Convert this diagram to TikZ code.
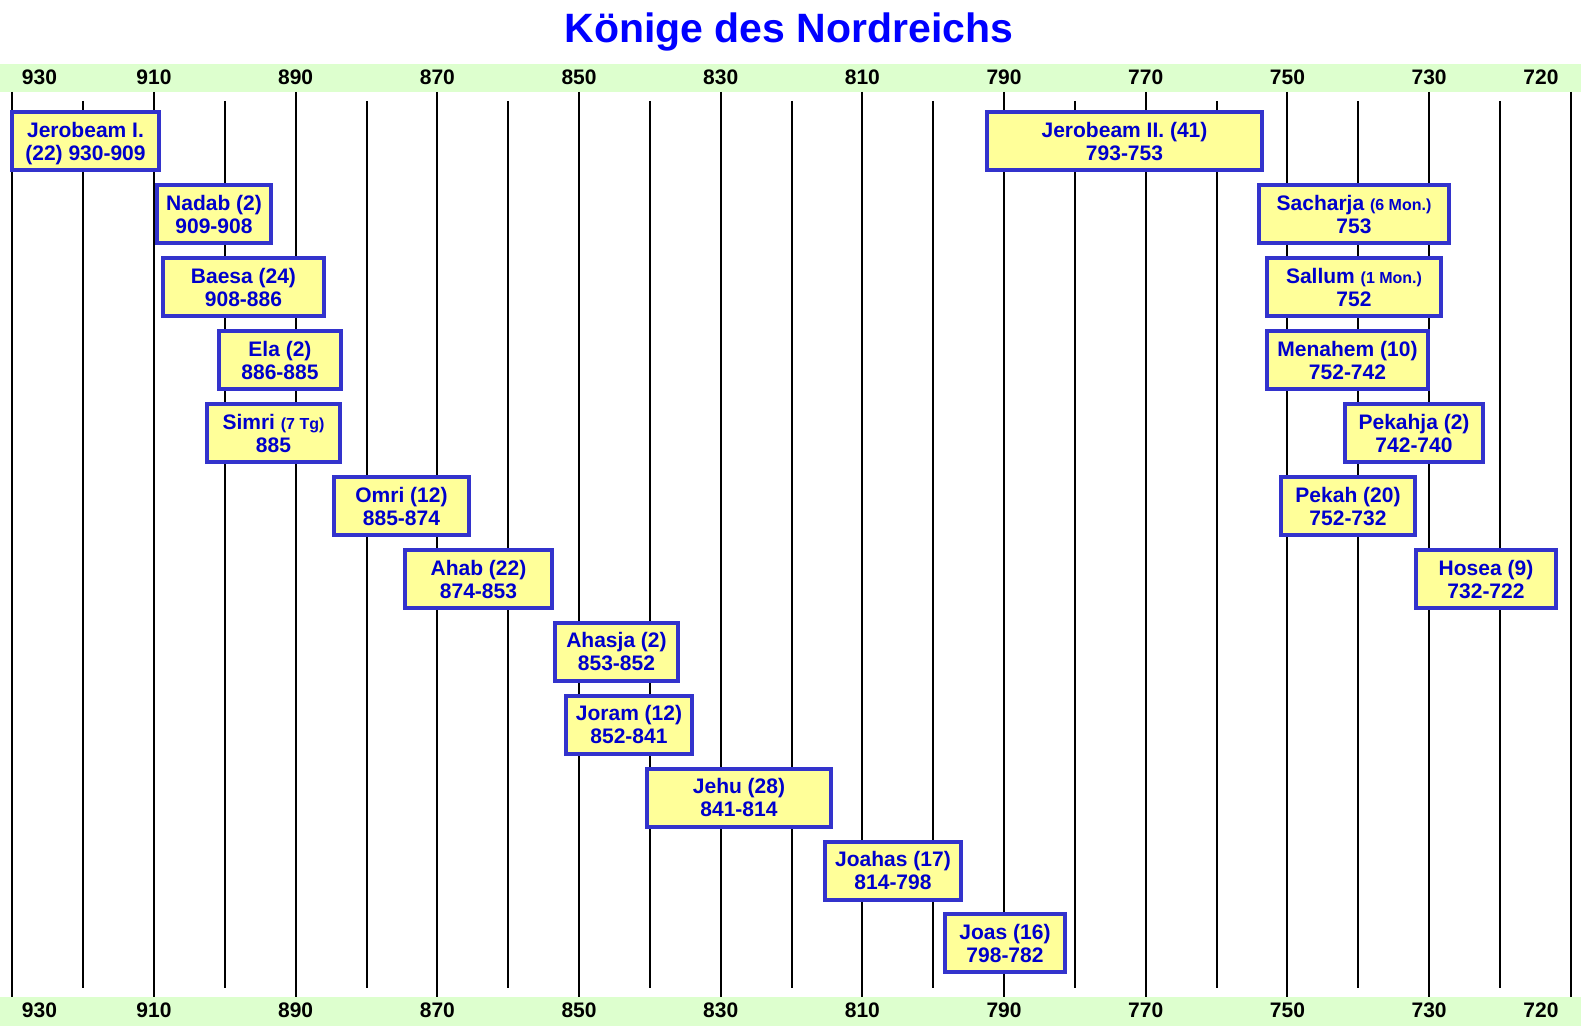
\documentclass[tikz,border=0pt]{standalone}
\usepackage{fontspec}
\setmainfont{Liberation Sans}
\usepackage{xcolor}
\usepackage{tikz}
\usetikzlibrary{positioning}
\usetikzlibrary{calc}
\definecolor{kingblue}{RGB}{0,0,204}
\definecolor{kingframe}{RGB}{51,51,204}
\definecolor{kingfill}{RGB}{255,255,153}
\definecolor{bandgreen}{RGB}{221,255,206}
\tikzstyle{king}=[rectangle,draw=kingframe,fill=kingfill,line width=2pt,text=kingblue,align=center,inner sep=0pt,text depth=0pt,font=\fontsize{10.5}{11.5}\selectfont\bfseries]
\tikzstyle{yearline} = [draw,line width=1pt]
\tikzstyle{yearlabel} = [font=\fontsize{10.5}{12}\selectfont\bfseries,anchor=base,inner sep=0pt]
\newcommand{\klein}[1]{{\fontsize{8}{9}\selectfont #1}}

\begin{document}
\begin{tikzpicture}[x=0.5pt,y=-0.5pt]

  \def\xa{12.3}
  \def\dx{7.084}
  \def\ya{141.5}
  \def\dy{72.9}

  \useasboundingbox (0,0) rectangle (1581,1026);

  % green bands
  \fill[bandgreen] (0,64) rectangle (1581,92);
  \fill[bandgreen] (0,997) rectangle (1581,1026);

  \node[text=blue, font=\fontsize{20.5}{24}\selectfont\bfseries, anchor=base] (title) at (789,42.5) {Könige des Nordreichs};

  % year lines
  \foreach \yr in {930,910,...,710}
     \draw[yearline] ({\xa+(930-\yr)*\dx},92) -- ({\xa+(930-\yr)*\dx},997);
  \foreach \yr in {920,900,...,720}
     \draw[yearline] ({\xa+(930-\yr)*\dx},101) -- ({\xa+(930-\yr)*\dx},988);

  % year labels
  \foreach \yr in {910,890,...,730}
     {
     \node[yearlabel] (top\yr) at ({\xa+(930-\yr)*\dx},85) {\yr};
     \node[yearlabel] (bot\yr) at ({\xa+(930-\yr)*\dx},1017.5) {\yr};
     }
  \foreach \x/\yr in {39.5/930, 1541/720}
     {
     \node[yearlabel] (top\yr) at (\x,85) {\yr};
     \node[yearlabel] (bot\yr) at (\x,1017.5) {\yr};
     }

  % kings
  \foreach \a/\b/\r/\name/\label in {10/161/0/jerobeamI/{Jerobeam I.\\(22) 930-909}, 155/273/1/nadab/{Nadab (2)\\909-908}, 161/326/2/baesa/{Baesa (24)\\908-886}, 217/343/3/ela/{Ela (2)\\886-885}, 205/342/4/simri/{Simri \klein{(7 Tg)}\\885}, 332/471/5/omri/{Omri (12)\\885-874}}
     \node[king, minimum width={(\b-\a-4)*0.5pt}, minimum height=29pt] (\name) at ({(\a+\b)/2},{\ya+\r*\dy}) {\label};

  \foreach \a/\b/\r/\name/\label in {403/554/6/ahab/{Ahab (22)\\874-853}, 553/680/7/ahasja/{Ahasja (2)\\853-852}, 564/694/8/joram/{Joram (12)\\852-841}, 645/833/9/jehu/{Jehu (28)\\841-814}, 823/963/10/joahas/{Joahas (17)\\814-798}, 943/1067/11/joas/{Joas (16)\\798-782}}
     \node[king, minimum width={(\b-\a-4)*0.5pt}, minimum height=29pt] (\name) at ({(\a+\b)/2},{\ya+\r*\dy}) {\label};

  \foreach \a/\b/\r/\name/\label in {985/1264/0/jerobeamII/{Jerobeam II. (41)\\793-753}, 1257/1451/1/sacharja/{Sacharja \klein{(6 Mon.)}\\753}, 1265/1443/2/sallum/{Sallum \klein{(1 Mon.)}\\752}, 1265/1430/3/menahem/{Menahem (10)\\752-742}, 1343/1485/4/pekahja/{Pekahja (2)\\742-740}, 1279/1417/5/pekah/{Pekah (20)\\752-732}, 1414/1558/6/hosea/{Hosea (9)\\732-722}}
     \node[king, minimum width={(\b-\a-4)*0.5pt}, minimum height=29pt] (\name) at ({(\a+\b)/2},{\ya+\r*\dy}) {\label};

\end{tikzpicture}
\end{document}
